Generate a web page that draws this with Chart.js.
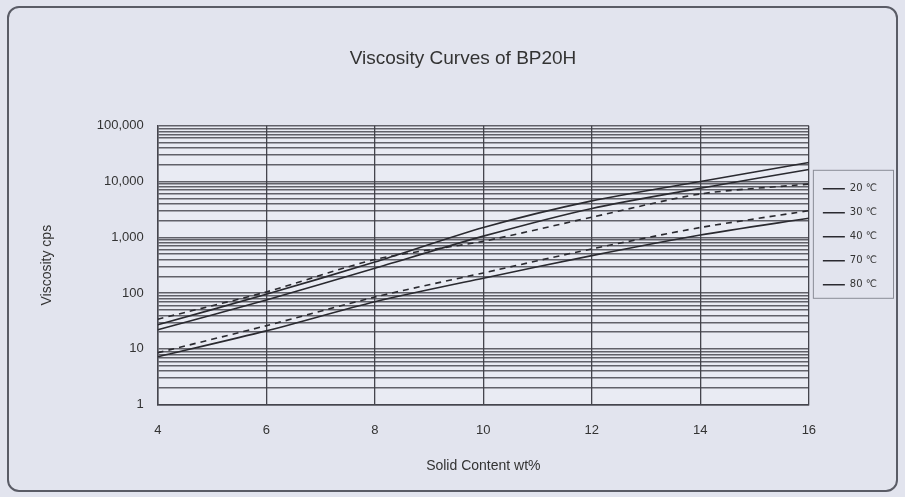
<!DOCTYPE html>
<html>
<head>
<meta charset="utf-8">
<script src="https://cdn.jsdelivr.net/npm/chart.js@4.4.0/dist/chart.umd.min.js"></script>
<style>
  html, body { margin: 0; padding: 0; background: #e2e4ee; }
  #wrap { position: relative; width: 905px; height: 497px; }
  #frame {
    position: absolute; left: 7px; top: 6px; width: 887px; height: 482px;
    border: 2px solid #5a5c66; border-radius: 12px; pointer-events: none;
  }
</style>
</head>
<body>
<div id="wrap">
  <canvas id="viscChart" width="905" height="497"></canvas>
  <div id="frame"></div>
</div>
<script>
// Solid content (wt%) on the x axis
const solidContent = [4, 6, 8, 10, 12, 14, 16];

// Viscosity (cps)
const visc20 = [27, 95, 360, 1500, 4500, 10000, 22000];
const visc30 = [22, 75, 280, 1050, 3300, 7600, 16500];
const visc40 = [34, 105, 400, 850, 2300, 6000, 9000];
const visc70 = [8.5, 26, 85, 230, 620, 1500, 3000];
const visc80 = [7.2, 21, 70, 185, 470, 1100, 2200];

const seriesNames = ['20 ℃', '30 ℃', '40 ℃', '70 ℃', '80 ℃'];
const dashed = [false, false, true, true, false];

// y grid: every 1..9 x 10^n, labels only on the decades
const yTicks = [];
for (let e = 0; e < 5; e++) {
    for (let k = 1; k < 10; k++) yTicks.push(k * Math.pow(10, e));
}
yTicks.push(100000);

const allSeries = [visc20, visc30, visc40, visc70, visc80];

const datasets = allSeries.map((vals, i) => ({
    label: seriesNames[i],
    data: vals.map((v, j) => ({ x: solidContent[j], y: v })),
    borderColor: '#2a2a30',
    backgroundColor: '#2a2a30',
    borderWidth: 1.6,
    borderDash: dashed[i] ? [6, 5] : [],
    pointRadius: 0,
    tension: 0.25,
    fill: false
}));

// plot background, legend placement and legend box
const decor = {
    id: 'decor',
    beforeDraw(chart) {
        const a = chart.chartArea;
        const ctx = chart.ctx;
        ctx.save();
        ctx.fillStyle = '#e9ebf3';
        ctx.fillRect(a.left, a.top, a.right - a.left, a.bottom - a.top);
        ctx.restore();
    },
    afterLayout(chart) {
        // push the legend down next to the upper curves
        chart.legend.top = chart.chartArea.top + 44;
    },
    afterDraw(chart) {
        const lg = chart.legend;
        const ctx = chart.ctx;
        ctx.save();
        ctx.strokeStyle = '#8a8c96';
        ctx.lineWidth = 1;
        ctx.strokeRect(lg.left + 4.5, lg.top + 0.5, lg.right - lg.left + 2, 128);
        ctx.restore();
    }
};

const ctx = document.getElementById('viscChart').getContext('2d');
const viscChart = new Chart(ctx, {
    type: 'line',
    data: { datasets: datasets },
    options: {
        responsive: false,
        animation: false,
        layout: { padding: { left: 39, right: 18, top: 47, bottom: 22 } },
        plugins: {
            title: {
                display: true,
                text: 'Viscosity Curves of BP20H',
                color: '#333',
                font: { family: 'Liberation Sans', size: 19, weight: 'normal' },
                padding: { top: 0, bottom: 56 }
            },
            legend: {
                position: 'right',
                align: 'start',
                labels: {
                    color: '#333',
                    font: { family: 'DejaVu Sans', size: 10 },
                    usePointStyle: true,
                    pointStyle: 'line',
                    pointStyleWidth: 22,
                    padding: 14,
                    generateLabels(chart) {
                        const items = Chart.defaults.plugins.legend.labels.generateLabels(chart);
                        items.forEach(it => { it.lineDash = []; it.pointStyle = 'line'; it.lineWidth = 1.5; });
                        return items;
                    }
                }
            },
            tooltip: { enabled: false }
        },
        scales: {
            x: {
                type: 'linear',
                min: 4,
                max: 16,
                ticks: {
                    stepSize: 2,
                    color: '#333',
                    padding: 18,
                    font: { family: 'Liberation Sans', size: 13 }
                },
                grid: { color: '#45454d', lineWidth: 1.3, drawTicks: false },
                border: { color: '#45454d', width: 1.5 },
                title: {
                    display: true,
                    text: 'Solid Content wt%',
                    color: '#333',
                    font: { family: 'Liberation Sans', size: 14 },
                    padding: { top: 2, bottom: 0 }
                }
            },
            y: {
                type: 'logarithmic',
                min: 1,
                max: 100000,
                afterBuildTicks(scale) {
                    scale.ticks = yTicks.map(v => ({ value: v }));
                },
                ticks: {
                    autoSkip: false,
                    color: '#333',
                    padding: 14,
                    font: { family: 'Liberation Sans', size: 13 },
                    callback(v) {
                        const e = Math.log10(v);
                        return Math.abs(e - Math.round(e)) < 1e-9 ? v.toLocaleString('en-US') : '';
                    }
                },
                grid: { color: 'rgba(62,62,70,0.8)', lineWidth: 1.4, drawTicks: false },
                border: { color: '#45454d', width: 1.5 },
                title: {
                    display: true,
                    text: 'Viscosity cps',
                    color: '#333',
                    font: { family: 'Liberation Sans', size: 14 },
                    padding: { top: 0, bottom: 27 }
                }
            }
        }
    },
    plugins: [decor]
});
</script>
</body>
</html>
